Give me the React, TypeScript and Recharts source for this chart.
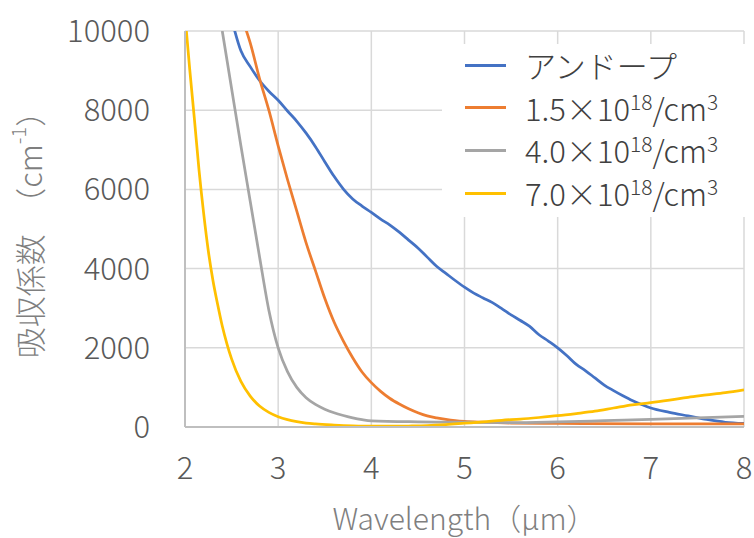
import React from 'react';
import { LineChart, Line, XAxis, YAxis, CartesianGrid, Legend } from 'recharts';

const undopedX = [2.5, 2.6, 2.7, 2.8, 2.9, 3.0, 3.1, 3.2, 3.3, 3.4, 3.5, 3.6, 3.7, 3.8, 3.9, 4.0, 4.1, 4.2, 4.3, 4.4, 4.5, 4.6, 4.7, 4.8, 4.9, 5.0, 5.1, 5.2, 5.3, 5.4, 5.5, 5.6, 5.7, 5.8, 5.9, 6.0, 6.1, 6.2, 6.3, 6.4, 6.5, 6.6, 6.7, 6.8, 6.9, 7.0, 7.2, 7.4, 7.6, 7.8, 8.0];
const undopedY = [10300, 9500, 9100, 8750, 8480, 8250, 7980, 7720, 7420, 7080, 6700, 6330, 6010, 5760, 5580, 5420, 5250, 5100, 4920, 4720, 4520, 4290, 4060, 3880, 3700, 3530, 3380, 3260, 3140, 2990, 2830, 2690, 2540, 2330, 2170, 2000, 1800, 1580, 1420, 1240, 1060, 920, 790, 670, 570, 480, 370, 280, 190, 120, 90];

const dope15X = [2.6, 2.7, 2.8, 2.9, 3.0, 3.1, 3.2, 3.3, 3.4, 3.5, 3.6, 3.7, 3.8, 3.9, 4.0, 4.1, 4.2, 4.3, 4.4, 4.5, 4.6, 4.7, 4.8, 4.9, 5.0, 5.2, 5.5, 6.0, 7.0, 8.0];
const dope15Y = [10400, 9700, 8800, 8000, 7100, 6250, 5450, 4650, 3950, 3250, 2650, 2170, 1750, 1390, 1120, 900, 720, 580, 460, 360, 280, 230, 190, 160, 140, 120, 100, 90, 80, 80];

const dope40X = [2.4, 2.5, 2.6, 2.7, 2.8, 2.9, 3.0, 3.1, 3.2, 3.3, 3.4, 3.5, 3.6, 3.7, 3.8, 3.9, 4.0, 4.5, 5.0, 5.5, 6.0, 6.5, 7.0, 7.5, 8.0];
const dope40Y = [10000, 8550, 7100, 5700, 4300, 2950, 2000, 1400, 1000, 740, 570, 450, 360, 290, 230, 185, 155, 130, 120, 110, 130, 160, 190, 230, 270];

const dope70X = [2.0, 2.05, 2.1, 2.15, 2.2, 2.25, 2.3, 2.35, 2.4, 2.45, 2.5, 2.6, 2.7, 2.8, 2.9, 3.0, 3.1, 3.2, 3.3, 3.4, 3.6, 3.8, 4.0, 4.2, 4.4, 4.6, 4.8, 5.0, 5.2, 5.4, 5.6, 5.8, 6.0, 6.2, 6.4, 6.6, 6.8, 7.0, 7.2, 7.4, 7.6, 7.8, 8.0];
const dope70Y = [10400, 9050, 7800, 6500, 5400, 4450, 3700, 3100, 2550, 2100, 1720, 1150, 780, 530, 370, 260, 185, 135, 100, 78, 50, 30, 20, 20, 25, 35, 60, 95, 130, 170, 200, 240, 285, 340, 400, 480, 560, 615, 680, 750, 810, 870, 940];

const xTicks = [2, 3, 4, 5, 6, 7, 8];
const yTicks = [0, 2000, 4000, 6000, 8000, 10000];

const seriesNames = ['アンドープ', '1.5', '4.0', '7.0'];
const seriesColors = ['#4472C4', '#ED7D31', '#A5A5A5', '#FFC000'];

const zip = (xs: number[], ys: number[]) => xs.map((x, i) => ({ x, y: ys[i] }));
const seriesData = [zip(undopedX, undopedY), zip(dope15X, dope15Y), zip(dope40X, dope40Y), zip(dope70X, dope70Y)];

const FONT = '"Noto Sans CJK JP", "Noto Sans", sans-serif';
const TICK_COLOR = '#595959';
const FS = 31;

const CHART_W = 754;
const CHART_H = 538;
const MARGIN_TOP = 31;
const XAXIS_H = 111;
const PLOT_BOTTOM = CHART_H - XAXIS_H;

const supStyle: React.CSSProperties = { fontSize: 21, verticalAlign: 'super', lineHeight: 0 };

const LegendContent = () => (
  <div style={{ fontFamily: FONT, fontSize: FS, fontWeight: 300, color: '#404040', background: '#fff', width: '100%', height: '100%' }}>
    {seriesNames.map((n, i) => (
      <div key={i} style={{ height: 42.6, display: 'flex', alignItems: 'center' }}>
        <div style={{ marginLeft: 23, width: 41, height: 3, background: seriesColors[i], flex: 'none' }} />
        <div style={{ marginLeft: 19, lineHeight: '32px', whiteSpace: 'nowrap' }}>
          {i === 0 ? n : (
            <span>{n}×10<sup style={supStyle}>18</sup>/cm<sup style={supStyle}>3</sup></span>
          )}
        </div>
      </div>
    ))}
  </div>
);

const XTick = (props: any) => (
  <text x={props.x} y={PLOT_BOTTOM + 52} textAnchor="middle" fontFamily={FONT} fontSize={FS} fontWeight={300} fill={TICK_COLOR}>
    {props.payload.value}
  </text>
);

const XTitle = (props: any) => {
  const vb = props.viewBox || {};
  return (
    <text x={vb.x + vb.width / 2} y={CHART_H - 8} textAnchor="middle" fontFamily={FONT} fontSize={30} fontWeight={300} fill="#7f7f7f">
      Wavelength（μm）
    </text>
  );
};

const YTitle = () => {
  const cx = 28;
  const cy = MARGIN_TOP + (PLOT_BOTTOM - MARGIN_TOP) / 2 - 2;
  return (
    <text x={cx} y={cy} textAnchor="middle" dominantBaseline="central" transform={`rotate(-90 ${cx} ${cy})`} fontFamily={FONT} fontSize={FS} fontWeight={300} fill="#7f7f7f">
      吸収係数　（cm<tspan fontSize={20} dy={-11}>-1</tspan><tspan dy={11}>）</tspan>
    </text>
  );
};

export default function App() {
  return (
    <div style={{ position: 'absolute', left: 0, top: 0, width: CHART_W, height: CHART_H, background: '#fff' }}>
      <LineChart width={CHART_W} height={CHART_H} margin={{ top: MARGIN_TOP, right: 10, bottom: 0, left: 0 }}>
        <CartesianGrid stroke="#d9d9d9" strokeWidth={1.5} horizontalValues={yTicks} verticalValues={xTicks} />
        <XAxis
          type="number"
          dataKey="x"
          domain={[2, 8]}
          ticks={xTicks}
          allowDataOverflow
          height={XAXIS_H}
          tickLine={false}
          axisLine={{ stroke: '#bfbfbf', strokeWidth: 2 }}
          tick={<XTick />}
          label={<XTitle />}
        />
        <YAxis
          type="number"
          domain={[0, 10000]}
          ticks={yTicks}
          allowDataOverflow
          width={185}
          tickLine={false}
          tickSize={6}
          tickMargin={29}
          axisLine={{ stroke: '#bfbfbf', strokeWidth: 2 }}
          tick={{ fill: TICK_COLOR, fontSize: FS, fontFamily: FONT, fontWeight: 300 }}
          label={<YTitle />}
        />
        <Legend
          layout="vertical"
          align="center"
          verticalAlign="middle"
          content={<LegendContent />}
          wrapperStyle={{ position: 'absolute', left: 442, top: 44, width: 312, height: 173 }}
        />
        {seriesData.map((d, i) => (
          <Line
            key={i}
            data={d}
            dataKey="y"
            type="monotone"
            stroke={seriesColors[i]}
            strokeWidth={2.75}
            dot={false}
            activeDot={false}
            isAnimationActive={false}
            legendType="line"
            name={seriesNames[i]}
          />
        ))}
      </LineChart>
    </div>
  );
}
